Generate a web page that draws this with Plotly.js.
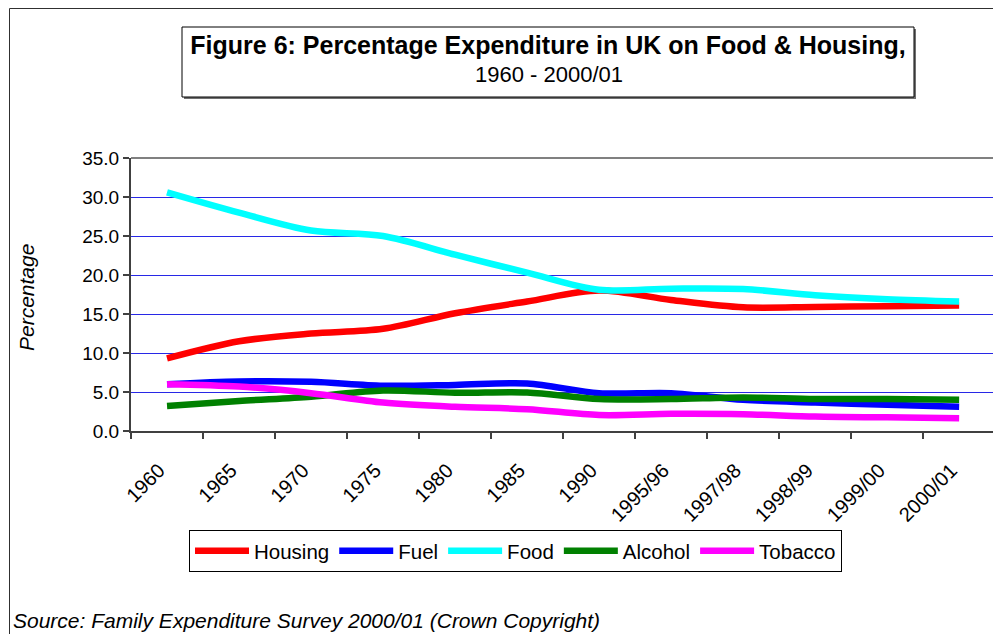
<!DOCTYPE html>
<html>
<head>
<meta charset="utf-8">
<script src="https://cdn.plot.ly/plotly-3.0.1.min.js"></script>
<style>
html,body{margin:0;padding:0;background:#fff;}
#chart{width:993px;height:634px;}
</style>
</head>
<body>
<div id="chart"></div>
<script>
// Categories (x axis)
var years = ["1960","1965","1970","1975","1980","1985","1990","1995/96","1997/98","1998/99","1999/00","2000/01"];

// Series values (percentage of expenditure)
var housing = [9.3, 11.5, 12.5, 13.1, 15.1, 16.6, 18.0, 16.8, 15.85, 15.9, 16.0, 16.1];
var fuel    = [6.0, 6.35, 6.3, 5.8, 5.9, 6.1, 4.85, 4.85, 4.0, 3.65, 3.35, 3.1];
var food    = [30.6, 28.0, 25.7, 25.0, 22.6, 20.3, 18.1, 18.25, 18.2, 17.4, 16.9, 16.6];
var alcohol = [3.2, 3.85, 4.4, 5.2, 4.9, 4.95, 4.1, 4.1, 4.3, 4.1, 4.1, 4.0];
var tobacco = [6.0, 5.7, 4.85, 3.65, 3.1, 2.8, 2.05, 2.2, 2.15, 1.85, 1.75, 1.65];

var seriesNames  = ["Housing","Fuel","Food","Alcohol","Tobacco"];
var seriesValues = [housing, fuel, food, alcohol, tobacco];
var seriesColors = ["#FF0000","#0000FF","#00FFFF","#008000","#FF00FF"];

var yTickVals = [0,5,10,15,20,25,30,35];
var yTickText = ["0.0","5.0","10.0","15.0","20.0","25.0","30.0","35.0"];

var titleMain = "Figure 6: Percentage Expenditure in UK on Food &amp; Housing,";
var titleSub  = "1960 - 2000/01";

var FONT = "Liberation Sans, Arial, sans-serif";

var traces = seriesNames.map(function(n, i){
  return {
    type: "scatter",
    mode: "lines",
    name: n,
    x: years,
    y: seriesValues[i],
    line: {color: seriesColors[i], width: 6.5, shape: "spline", smoothing: 0.9},
    hoverinfo: "x+y+name"
  };
});

// pixel helpers for placing decorations in paper coordinates
var L = 131, T = 158, W = 862, H = 273;
function px(x){ return (x - L) / W; }
function py(y){ return (T + H - y) / H; }

// rotated labels: small trailing padding so they sit slightly left of the category centre
var xTickText = years.map(function(s){ return s + "\u00a0\u00a0"; });

var layout = {
  width: 993,
  height: 634,
  margin: {l: L, r: 993 - L - W, t: T, b: 634 - T - H, pad: 0},
  paper_bgcolor: "#ffffff",
  plot_bgcolor: "#ffffff",
  font: {family: FONT, color: "#000000", size: 20},
  title: {
    text: "<b>" + titleMain + "</b>",
    font: {family: FONT, size: 25, color: "#000000"},
    x: 548/993, xref: "container", xanchor: "center",
    y: 1 - 45/634, yref: "container", yanchor: "middle"
  },
  xaxis: {
    type: "category",
    range: [-0.5, 11.47],
    tickson: "boundaries",
    tickmode: "array",
    tickvals: years,
    ticktext: xTickText,
    ticks: "outside",
    ticklen: 6,
    tickcolor: "#404040",
    tickwidth: 1.5,
    tickangle: -45,
    ticklabelstandoff: 10,
    tickfont: {family: FONT, size: 20, color: "#000000"},
    showgrid: false,
    showline: true,
    linecolor: "#404040",
    linewidth: 2,
    zeroline: false,
    fixedrange: true
  },
  yaxis: {
    range: [0, 35],
    tickvals: yTickVals,
    ticktext: yTickText,
    ticks: "outside",
    ticklen: 6,
    tickcolor: "#404040",
    tickwidth: 1.5,
    tickfont: {family: FONT, size: 19, color: "#000000"},
    showgrid: true,
    gridcolor: "#2828E6",
    gridwidth: 1,
    showline: true,
    linecolor: "#404040",
    linewidth: 2,
    zeroline: false,
    fixedrange: true
  },
  showlegend: true,
  legend: {
    orientation: "h",
    x: px(189), xanchor: "left",
    y: py(530), yanchor: "top",
    bordercolor: "#000000",
    borderwidth: 1,
    bgcolor: "#ffffff",
    font: {family: FONT, size: 20.5, color: "#000000"},
    itemwidth: 54,
    tracegroupgap: 0
  },
  shapes: [
    // outer chart frame (left and top edges)
    {type: "line", xref: "paper", yref: "paper", x0: px(9.5), x1: px(9.5), y0: py(8.5), y1: py(660), line: {color: "#303030", width: 1}},
    {type: "line", xref: "paper", yref: "paper", x0: px(9.5), x1: px(1010), y0: py(8.5), y1: py(8.5), line: {color: "#303030", width: 1}},
    // plot-area top border
    {type: "line", xref: "paper", yref: "paper", x0: 0, x1: 1, y0: 1, y1: 1, line: {color: "#808080", width: 2}},
    // title box shadow and box
    {type: "rect", xref: "paper", yref: "paper", x0: px(184), x1: px(916), y0: py(99), y1: py(29), fillcolor: "#707070", line: {width: 0}},
    {type: "rect", xref: "paper", yref: "paper", x0: px(182), x1: px(914), y0: py(97), y1: py(27), fillcolor: "#ffffff", line: {color: "#000000", width: 1}}
  ],
  annotations: [
    {
      text: titleSub,
      xref: "paper", yref: "paper",
      x: px(549), y: py(74),
      xanchor: "center", yanchor: "middle",
      showarrow: false,
      font: {family: FONT, size: 22, color: "#000000"}
    },
    {
      text: "<i>Percentage</i>",
      xref: "paper", yref: "paper",
      x: px(26), y: py(298),
      xanchor: "center", yanchor: "middle",
      textangle: -90,
      showarrow: false,
      font: {family: FONT, size: 21, color: "#000000"}
    },
    {
      text: "<i>Source: Family Expenditure Survey 2000/01 (Crown Copyright)</i>",
      xref: "paper", yref: "paper",
      x: px(11), y: py(620),
      xanchor: "left", yanchor: "middle",
      showarrow: false,
      font: {family: FONT, size: 21, color: "#000000"}
    }
  ]
};

Plotly.newPlot("chart", traces, layout, {displayModeBar: false, staticPlot: false});
</script>
</body>
</html>
